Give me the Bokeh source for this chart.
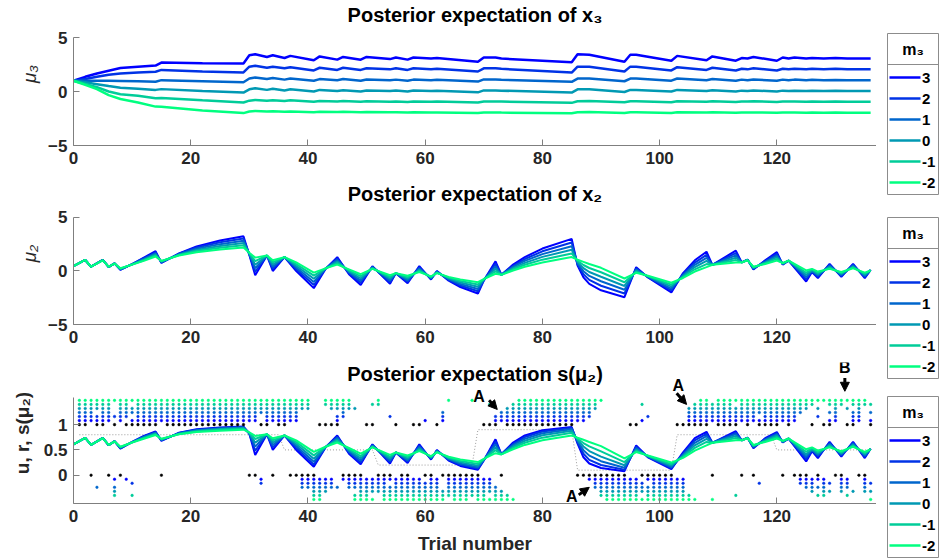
import numpy as np
from bokeh.plotting import figure
from bokeh.layouts import row, column
from bokeh.models import Range1d, FixedTicker, Label, Arrow, NormalHead
from bokeh.embed import file_html
from bokeh.resources import INLINE

# ---------------- data ----------------
m3_levels = ["3", "2", "1", "0", "-1", "-2"]
colors = ["#0000ff", "#0033e6", "#0066cc", "#0099b3", "#00cc99", "#00ff80"]
x_ticks = [0, 20, 40, 60, 80, 100, 120]

# posterior expectation of x3 (key trials)
mu3_x = [0, 2, 4, 6, 8, 11, 14, 15, 22, 29, 30, 31, 33, 34, 36, 37, 41, 42, 45, 46, 49, 50, 54, 55, 57, 58,
         61, 62, 69, 70, 72, 73, 85, 86, 88, 94, 95, 96, 102, 103, 108, 109, 113, 114, 115, 116, 120, 121,
         122, 123, 125, 126, 128, 130, 132, 134, 136]
mu3_m3_p3 = [1.0, 1.36, 1.67, 1.92, 2.17, 2.3, 2.4, 2.68, 2.62, 2.6, 3.35, 3.45, 3.2, 3.35, 3.1, 3.3, 2.9, 3.25,
             2.95, 3.2, 2.95, 3.2, 3.0, 3.15, 2.95, 3.15, 3.05, 3.1, 2.75, 3.15, 3.15, 3.05, 2.7, 3.45, 3.4,
             2.75, 3.4, 3.4, 2.85, 3.3, 2.9, 3.25, 2.85, 3.1, 3.05, 3.2, 2.85, 3.15, 3.05, 3.15, 3.05, 3.1,
             3.05, 3.1, 3.05, 3.05, 3.05]
mu3_m3_p2 = [1.0, 1.15, 1.36, 1.55, 1.67, 1.77, 1.83, 2.0, 1.85, 1.77, 2.3, 2.38, 2.2, 2.3, 2.15, 2.25, 1.95,
             2.2, 2.0, 2.2, 2.0, 2.15, 2.05, 2.15, 2.0, 2.15, 2.05, 2.1, 1.85, 2.15, 2.15, 2.1, 1.75, 2.3, 2.3,
             1.85, 2.3, 2.3, 1.95, 2.25, 2.0, 2.2, 1.95, 2.1, 2.05, 2.15, 1.95, 2.1, 2.05, 2.1, 2.05, 2.1,
             2.05, 2.1, 2.05, 2.05, 2.05]
mu3_m3_p1 = [1.0, 1.0, 1.0, 1.0, 0.98, 0.95, 0.9, 1.05, 0.95, 0.85, 1.2, 1.3, 1.15, 1.25, 1.1, 1.2, 1.0, 1.15,
             1.05, 1.15, 1.0, 1.12, 1.05, 1.1, 1.0, 1.1, 1.05, 1.08, 0.92, 1.12, 1.1, 1.08, 0.9, 1.2, 1.2,
             0.95, 1.2, 1.2, 1.0, 1.2, 1.05, 1.15, 1.0, 1.1, 1.05, 1.12, 1.0, 1.1, 1.05, 1.1, 1.05, 1.08,
             1.05, 1.07, 1.05, 1.05, 1.05]
mu3_m3_0 = [1.0, 0.85, 0.68, 0.5, 0.35, 0.25, 0.15, 0.22, 0.05, -0.1, 0.2, 0.3, 0.15, 0.25, 0.1, 0.2, 0.0,
            0.15, 0.05, 0.12, 0.0, 0.1, 0.05, 0.1, 0.0, 0.1, 0.05, 0.07, -0.08, 0.1, 0.1, 0.08, -0.1, 0.2,
            0.2, -0.05, 0.15, 0.15, 0.0, 0.15, 0.05, 0.12, 0.0, 0.08, 0.05, 0.1, 0.0, 0.08, 0.05, 0.08, 0.05,
            0.07, 0.05, 0.06, 0.05, 0.05, 0.05]
mu3_m3_m1 = [1.0, 0.7, 0.4, 0.0, -0.25, -0.4, -0.62, -0.6, -0.82, -1.02, -0.85, -0.78, -0.85, -0.8, -0.88,
             -0.82, -0.95, -0.88, -0.92, -0.88, -0.95, -0.9, -0.95, -0.92, -0.97, -0.92, -0.95, -0.93, -1.02,
             -0.92, -0.92, -0.93, -1.05, -0.9, -0.88, -1.0, -0.9, -0.9, -1.0, -0.9, -0.95, -0.9, -0.97,
             -0.92, -0.93, -0.9, -0.97, -0.92, -0.93, -0.92, -0.94, -0.93, -0.94, -0.93, -0.94, -0.95, -0.95]
mu3_m3_m2 = [1.0, 0.62, 0.22, -0.34, -0.7, -1.02, -1.4, -1.42, -1.75, -2.0, -1.85, -1.8, -1.85, -1.82, -1.88,
             -1.85, -1.92, -1.88, -1.9, -1.88, -1.92, -1.9, -1.93, -1.92, -1.95, -1.93, -1.95, -1.94, -2.0,
             -1.95, -1.94, -1.95, -2.02, -1.93, -1.9, -1.98, -1.93, -1.92, -1.98, -1.93, -1.95, -1.93, -1.97,
             -1.95, -1.95, -1.94, -1.97, -1.95, -1.95, -1.95, -1.96, -1.95, -1.96, -1.95, -1.96, -1.96, -1.96]

# posterior expectation of x2 (key trials)
mu2_x = [0, 2, 3, 5, 6, 7, 8, 10, 12, 14, 15, 18, 21, 25, 29, 30, 31, 33, 34, 36, 38, 41, 43, 45, 47, 49,
         51, 54, 55, 57, 59, 61, 62, 64, 66, 69, 70, 72, 73, 75, 77, 80, 85, 86, 87, 88, 90, 94, 96, 98,
         102, 104, 106, 108, 109, 113, 114, 115, 116, 118, 120, 121, 122, 125, 126, 127, 129, 131, 133,
         135, 136]
mu2_m3_p3 = [0.45, 1.03, 0.4, 1.03, 0.37, 0.72, 0.1, 0.65, 1.25, 1.85, 0.75, 1.65, 2.3, 2.85, 3.25, 1.5,
             -0.4, 1.45, 0.0, 1.3, 0.0, -1.6, 0.2, 1.3, -0.3, -1.3, 0.45, -1.2, -0.2, -1.15, 0.45, -0.8, 0.0,
             -0.9, -1.5, -2.1, -0.9, 0.9, -0.35, 0.6, 1.3, 2.1, 3.0, 0.5, -0.6, -1.2, -1.8, -2.45, 0.36,
             -0.6, -2.0, -0.2, 1.0, 1.8, 0.58, 1.9, 0.8, 1.07, 0.14, 1.0, 1.76, 0.6, 0.97, -0.98, -0.1,
             -0.67, 0.67, -0.55, 0.67, -0.67, 0.1]
mu2_m3_p2 = [0.45, 1.03, 0.4, 1.03, 0.37, 0.72, 0.13, 0.64, 1.19, 1.75, 0.79, 1.61, 2.19, 2.68, 3.04, 1.54,
             -0.07, 1.45, 0.2, 1.3, 0.16, -1.31, 0.21, 1.16, -0.21, -1.1, 0.4, -1.04, -0.2, -1.01, 0.34,
             -0.74, -0.04, -0.83, -1.36, -1.89, -0.87, 0.67, -0.35, 0.49, 1.12, 1.84, 2.66, 0.61, -0.31,
             -0.83, -1.38, -2.1, 0.25, -0.57, -1.82, -0.29, 0.79, 1.51, 0.58, 1.68, 0.8, 1.06, 0.19, 0.93,
             1.6, 0.63, 0.97, -0.77, -0.04, -0.55, 0.58, -0.46, 0.59, -0.57, 0.09]
mu2_m3_p1 = [0.45, 1.03, 0.4, 1.03, 0.38, 0.71, 0.16, 0.63, 1.13, 1.65, 0.83, 1.57, 2.08, 2.51, 2.83, 1.58,
             0.26, 1.45, 0.4, 1.3, 0.32, -1.02, 0.22, 1.02, -0.12, -0.9, 0.35, -0.88, -0.2, -0.87, 0.23,
             -0.68, -0.08, -0.76, -1.22, -1.68, -0.84, 0.44, -0.35, 0.38, 0.94, 1.58, 2.32, 0.72, -0.02,
             -0.46, -0.96, -1.75, 0.14, -0.54, -1.64, -0.38, 0.58, 1.22, 0.58, 1.46, 0.8, 1.04, 0.24, 0.86,
             1.44, 0.66, 0.97, -0.57, 0.02, -0.42, 0.48, -0.37, 0.5, -0.46, 0.08]
mu2_m3_0 = [0.45, 1.03, 0.4, 1.02, 0.38, 0.71, 0.19, 0.62, 1.07, 1.55, 0.87, 1.53, 1.97, 2.34, 2.62, 1.62,
            0.59, 1.45, 0.6, 1.3, 0.48, -0.73, 0.23, 0.88, -0.03, -0.7, 0.3, -0.72, -0.2, -0.73, 0.12,
            -0.62, -0.12, -0.69, -1.08, -1.47, -0.81, 0.21, -0.35, 0.27, 0.76, 1.32, 1.98, 0.83, 0.27,
            -0.09, -0.54, -1.4, 0.03, -0.51, -1.46, -0.47, 0.37, 0.94, 0.58, 1.24, 0.8, 1.03, 0.3, 0.79,
            1.29, 0.69, 0.97, -0.36, 0.08, -0.3, 0.39, -0.28, 0.42, -0.36, 0.07]
mu2_m3_m1 = [0.45, 1.03, 0.4, 1.01, 0.39, 0.7, 0.22, 0.61, 1.01, 1.45, 0.91, 1.49, 1.86, 2.17, 2.41, 1.66,
             0.92, 1.45, 0.8, 1.3, 0.64, -0.44, 0.24, 0.74, 0.06, -0.5, 0.25, -0.56, -0.2, -0.59, 0.01,
             -0.56, -0.16, -0.62, -0.94, -1.26, -0.78, -0.02, -0.36, 0.16, 0.58, 1.06, 1.64, 0.94, 0.56,
             0.28, -0.12, -1.05, -0.08, -0.48, -1.28, -0.56, 0.16, 0.65, 0.58, 1.02, 0.8, 1.01, 0.35, 0.72,
             1.13, 0.72, 0.97, -0.16, 0.14, -0.17, 0.29, -0.19, 0.33, -0.25, 0.06]
mu2_m3_m2 = [0.45, 1.03, 0.4, 1.0, 0.4, 0.7, 0.25, 0.6, 0.95, 1.35, 0.95, 1.45, 1.75, 2.0, 2.2, 1.7, 1.25,
             1.45, 1.0, 1.3, 0.8, -0.15, 0.25, 0.6, 0.15, -0.3, 0.2, -0.4, -0.2, -0.45, -0.1, -0.5, -0.2,
             -0.55, -0.8, -1.05, -0.75, -0.26, -0.36, 0.05, 0.4, 0.8, 1.3, 1.05, 0.85, 0.65, 0.3, -0.7,
             -0.17, -0.45, -1.1, -0.65, -0.05, 0.36, 0.58, 0.8, 0.8, 1.0, 0.4, 0.65, 0.97, 0.75, 0.97, 0.05,
             0.2, -0.05, 0.2, -0.1, 0.25, -0.15, 0.05]

# outcomes u per trial (1..136)
u_trials = ("1101101011 1111011111 1111111110 0110110000 0111100001 1000100110 0100000001 "
            "1101111111 1111100000 0000110000 0011111101 1110101111 0100010110 011001")

# simulated responses per model (1..136), rows ordered m3 = 3 ... -2
resp_m3_p3 = ("1111110101 1111111111 1111111111 1011111100 0000100000 0000000001 0010000000 "
              "0111111111 1111111000 0000001000 0000111111 1111111111 1110000011 001101")
resp_m3_p2 = ("1111111110 1111111111 1111111111 1011111100 0000110000 0001000000 0010000000 "
              "0111111111 1111111100 0000000100 0000111111 1111110111 1110001001 001100")
resp_m3_p1 = ("1110110111 1111111111 1111111111 1111111100 0000010000 0000000000 0010000000 "
              "0011111111 1111111100 0000000000 0000111111 1111111111 1111000011 001101")
resp_m3_0 = ("1111110111 1111111111 1111111111 1111111111 0001111100 0000000000 0000000000 "
             "0001111111 1111111110 0000000000 0000111111 1111111111 1111101001 010100")
resp_m3_m1 = ("1111110110 1111111111 1111111111 1111111111 0011111000 1100000000 0000000000 "
              "1000111111 1111111110 0000001000 0000011111 1101111111 1111110011 101111")
resp_m3_m2 = ("1111111111 1111111111 1111111111 1111111111 0011111000 0100000000 0001000100 "
              "0000011111 1111111111 0000000000 0000001101 1111111111 1111111111 111110")

# true probability schedule r (dotted)
r_x = [1, 35, 36, 51, 52, 68, 69, 85, 86, 102, 103, 119, 120, 136]
r_y = [0.8, 0.8, 0.5, 0.5, 0.2, 0.2, 0.9, 0.9, 0.1, 0.1, 0.8, 0.8, 0.5, 0.5]

mu3_series = [mu3_m3_p3, mu3_m3_p2, mu3_m3_p1, mu3_m3_0, mu3_m3_m1, mu3_m3_m2]
mu2_series = [mu2_m3_p3, mu2_m3_p2, mu2_m3_p1, mu2_m3_0, mu2_m3_m1, mu2_m3_m2]
resp_series = [resp_m3_p3, resp_m3_p2, resp_m3_p1, resp_m3_0, resp_m3_m1, resp_m3_m2]

# ---------------- style ----------------
FONT = "Liberation Sans"
TXT = "#262626"
AX = "#7f7f7f"
TITLE_SIZE = "20px"


def make_fig(height, yr, ybounds, yticks, ylabel, bottom, title, title_y, xlabel=None,
             ylabel_style="normal", ylabel_standoff=8):
    # the frame reaches up to the top of the figure so that the title and markers sit inside it;
    # the visible y axis is limited to the data bounds
    p = figure(width=876, height=height, x_range=Range1d(0, 137), y_range=Range1d(*yr),
               output_backend="svg", toolbar_location=None, min_border_left=73, min_border_right=0,
               min_border_top=2, min_border_bottom=bottom)
    p.outline_line_color = None
    p.grid.visible = False
    p.background_fill_color = "white"
    p.border_fill_color = "white"
    p.xaxis.ticker = FixedTicker(ticks=x_ticks)
    p.yaxis.ticker = FixedTicker(ticks=yticks)
    p.yaxis.bounds = ybounds
    for ax in (p.xaxis[0], p.yaxis[0]):
        ax.axis_line_color = AX
        ax.major_tick_line_color = AX
        ax.major_tick_in = 6
        ax.major_tick_out = 0
        ax.minor_tick_in = 0
        ax.minor_tick_out = 0
        ax.major_label_text_font = FONT
        ax.major_label_text_font_size = "17px"
        ax.major_label_text_font_style = "bold"
        ax.major_label_text_color = TXT
        ax.major_label_standoff = 6
    p.yaxis.axis_label = ylabel
    p.yaxis.axis_label_text_font = FONT
    p.yaxis.axis_label_text_font_size = "19px"
    p.yaxis.axis_label_text_font_style = ylabel_style
    p.yaxis.axis_label_text_color = TXT
    p.yaxis.axis_label_standoff = ylabel_standoff
    if xlabel:
        p.xaxis.axis_label = xlabel
        p.xaxis.axis_label_text_font = FONT
        p.xaxis.axis_label_text_font_size = "19px"
        p.xaxis.axis_label_text_font_style = "bold"
        p.xaxis.axis_label_text_color = TXT
        p.xaxis.axis_label_standoff = 8
    p.add_layout(Label(x=68.5, y=title_y, text=title, text_font=FONT, text_font_size=TITLE_SIZE,
                       text_font_style="bold", text_align="center", text_baseline="middle",
                       text_color="black"))
    return p


p1 = make_fig(180, (-5, 8.241), (-5, 5), [-5, 0, 5], "\u03bc\u2083", 35,
              "Posterior expectation of x\u2083", 7.12, ylabel_style="italic", ylabel_standoff=5)
for ys, c in zip(mu3_series, colors):
    p1.line(mu3_x, ys, line_color=c, line_width=2.5)

p2 = make_fig(180, (-5, 8.271), (-5, 5), [-5, 0, 5], "\u03bc\u2082", 36,
              "Posterior expectation of x\u2082", 7.2, ylabel_style="italic", ylabel_standoff=5)
for ys, c in zip(mu2_series, colors):
    p2.line(mu2_x, ys, line_color=c, line_width=2)

p3 = make_fig(200, (-0.56, 2.229), (-0.56, 1.54), [0, 0.5, 1], "u, r, s(\u03bc\u2082)", 57,
              "Posterior expectation s(\u03bc\u2082)", 2.01, xlabel="Trial number", ylabel_style="bold")

p3.line(r_x, r_y, line_color="#9a9a9a", line_width=1, line_dash="1 2")
for ys, c in zip(mu2_series, colors):
    s = 1.0 / (1.0 + np.exp(-np.array(ys)))
    p3.line(mu2_x, s, line_color=c, line_width=2)

u_vals = np.array([int(ch) for ch in "".join(u_trials.split())])
trials = np.arange(1, len(u_vals) + 1)
p3.scatter(trials, u_vals.astype(float), marker="circle", size=2.6, fill_color="black", line_color="black",
           line_width=0.5)
for k, (rs, c) in enumerate(zip(resp_series, colors), start=1):
    rv = np.array([int(ch) for ch in "".join(rs.split())])
    ty = np.arange(1, len(rv) + 1)
    yy = np.where(rv == 1, 1 + 0.08 * k, -0.08 * k)
    p3.scatter(ty, yy, marker="circle", size=2.6, fill_color=c, line_color=c, line_width=0.5)

# annotations (A / B markers)
ann = [("A", 69.2, 1.56, 70.9, 1.48, 72.3, 1.30),
       ("A", 103.2, 1.78, 102.9, 1.62, 104.6, 1.40),
       ("A", 85.0, -0.43, 86.2, -0.39, 88.0, -0.24),
       ("B", 131.6, 2.13, 131.6, 1.92, 131.6, 1.66)]
for txt, lx, ly, xs, ys_, xe, ye in ann:
    p3.add_layout(Label(x=lx, y=ly, text=txt, text_font=FONT, text_font_size="16px",
                        text_font_style="bold", text_align="center", text_baseline="middle",
                        text_color="black"))
    p3.add_layout(Arrow(x_start=xs, y_start=ys_, x_end=xe, y_end=ye, line_width=3, line_color="black",
                        end=NormalHead(size=9, fill_color="black", line_color="black")))

# ---------------- legends (side panel, pixel coordinates) ----------------
pl = figure(width=64, height=560, x_range=Range1d(876, 940), y_range=Range1d(560, 0),
            output_backend="svg", toolbar_location=None, min_border=0,
            x_axis_type=None, y_axis_type=None)
pl.outline_line_color = None
pl.grid.visible = False
for top in (33, 217, 396):
    pl.quad(left=[887], right=[938], top=[top], bottom=[top + 161], fill_color="white",
            line_color="#8c8c8c", line_width=1)
    pl.segment(x0=[887], y0=[top + 31], x1=[938], y1=[top + 31], line_color="#8c8c8c", line_width=1)
    pl.text(x=[912.5], y=[top + 16], text=["m\u2083"], text_font_size="16px", text_font_style="bold",
            text_align="center", text_baseline="middle", text_color="black")
    for i, (lab, c) in enumerate(zip(m3_levels, colors)):
        yy = top + 44 + 21 * i
        pl.segment(x0=[889], y0=[yy], x1=[920], y1=[yy], line_color=c, line_width=2.5)
        pl.text(x=[921.5], y=[yy], text=[lab], text_font_size="15px", text_font_style="bold",
                text_align="left", text_baseline="middle", text_color="black")

layout = row(column(p1, p2, p3, spacing=0), pl, spacing=0)
open("out.html", "w").write(file_html(layout, INLINE))
